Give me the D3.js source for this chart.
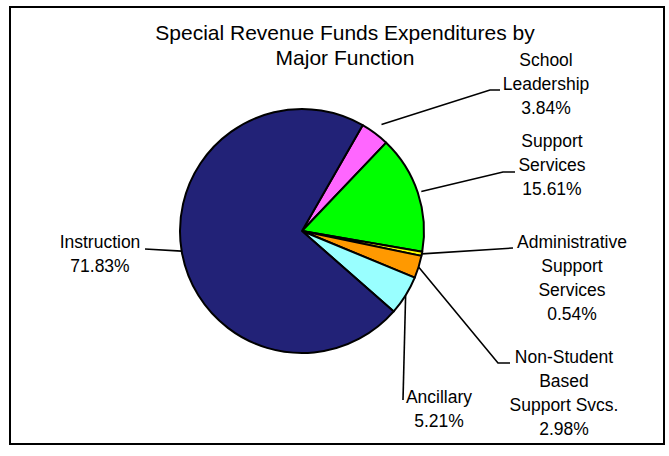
<!DOCTYPE html>
<html>
<head>
<meta charset="utf-8">
<script src="https://cdn.jsdelivr.net/npm/d3@7"></script>
<style>
  html, body { margin: 0; padding: 0; background: #fff; }
  svg { display: block; }
  text { font-family: "Liberation Sans", Arial, sans-serif; fill: #000; }
</style>
</head>
<body>
<svg id="chart" width="669" height="456"></svg>
<script>
// Special revenue fund expenditures, share by major function (percent)
const categories = [
  "School Leadership",
  "Support Services",
  "Administrative Support Services",
  "Non-Student Based Support Svcs.",
  "Ancillary",
  "Instruction"
];
const values = [3.84, 15.61, 0.54, 2.98, 5.21, 71.83];
const labelLines = [
  ["School", "Leadership"],
  ["Support", "Services"],
  ["Administrative", "Support", "Services"],
  ["Non-Student", "Based", "Support Svcs."],
  ["Ancillary"],
  ["Instruction"]
];
const titleLines = ["Special Revenue Funds Expenditures by", "Major Function"];

const colors = ["#FF66FF", "#00FF00", "#FFFF00", "#FF9900", "#99FFFF", "#222277"];

// label placement: text centre x, first baseline y, leader bend/end points
const labelLayout = [
  { x: 546, y: 66,  lead: 1.09, pts: [[490, 90], [500, 90]] },
  { x: 552, y: 147, lead: 1.03, pts: [[503, 172], [515, 172]] },
  { x: 572, y: 248, lead: 1.0,  pts: [[513, 248]] },
  { x: 564, y: 363, lead: 1.0,  pts: [[498, 363], [510, 363]] },
  { x: 439, y: 403, lead: 1.0,  pts: [[403, 400]] },
  { x: 100, y: 248, lead: 1.0,  pts: [[145, 249]] }
];
const lineStep = 24;

const svg = d3.select("#chart");
const W = 669, H = 456;

// outer frame
svg.append("rect")
  .attr("x", 10).attr("y", 7)
  .attr("width", 654).attr("height", 437)
  .attr("fill", "#fff")
  .attr("stroke", "#000")
  .attr("stroke-width", 2);

// title
svg.append("text")
  .attr("text-anchor", "middle")
  .attr("font-size", 21)
  .selectAll("tspan")
  .data(titleLines)
  .join("tspan")
  .attr("x", 345)
  .attr("y", (d, i) => 39.5 + i * 25.5)
  .text(d => d);

const cx = 302, cy = 231, r = 122;
const start = 29.8 * Math.PI / 180;

const pie = d3.pie().sort(null).value(d => d)
  .startAngle(start).endAngle(start + 2 * Math.PI);
const arcs = pie(values);
const arc = d3.arc().innerRadius(0).outerRadius(r);

const g = svg.append("g").attr("transform", `translate(${cx},${cy})`);

g.selectAll("path.slice")
  .data(arcs)
  .join("path")
  .attr("class", "slice")
  .attr("d", arc)
  .attr("fill", (d, i) => colors[i])
  .attr("stroke", "#000")
  .attr("stroke-width", 2)
  .attr("stroke-linejoin", "round");

// leader lines
const leader = d3.line();
svg.append("g").selectAll("path.leader")
  .data(arcs)
  .join("path")
  .attr("class", "leader")
  .attr("fill", "none")
  .attr("stroke", "#000")
  .attr("stroke-width", 1.6)
  .attr("d", (d, i) => {
    const a = (d.startAngle + d.endAngle) / 2;
    const rr = r * labelLayout[i].lead;
    const p0 = [cx + rr * Math.sin(a), cy - rr * Math.cos(a)];
    return leader([p0, ...labelLayout[i].pts]);
  });

// data labels: name lines then percentage
const labels = svg.append("g").selectAll("text.label")
  .data(arcs)
  .join("text")
  .attr("class", "label")
  .attr("text-anchor", "middle")
  .attr("font-size", 17.5);

labels.selectAll("tspan")
  .data((d, i) => labelLines[i].concat([d.data.toFixed(2) + "%"]).map(t => ({ t, i })))
  .join("tspan")
  .attr("x", d => labelLayout[d.i].x)
  .attr("y", (d, k) => labelLayout[d.i].y + k * lineStep)
  .text(d => d.t);
</script>
</body>
</html>
